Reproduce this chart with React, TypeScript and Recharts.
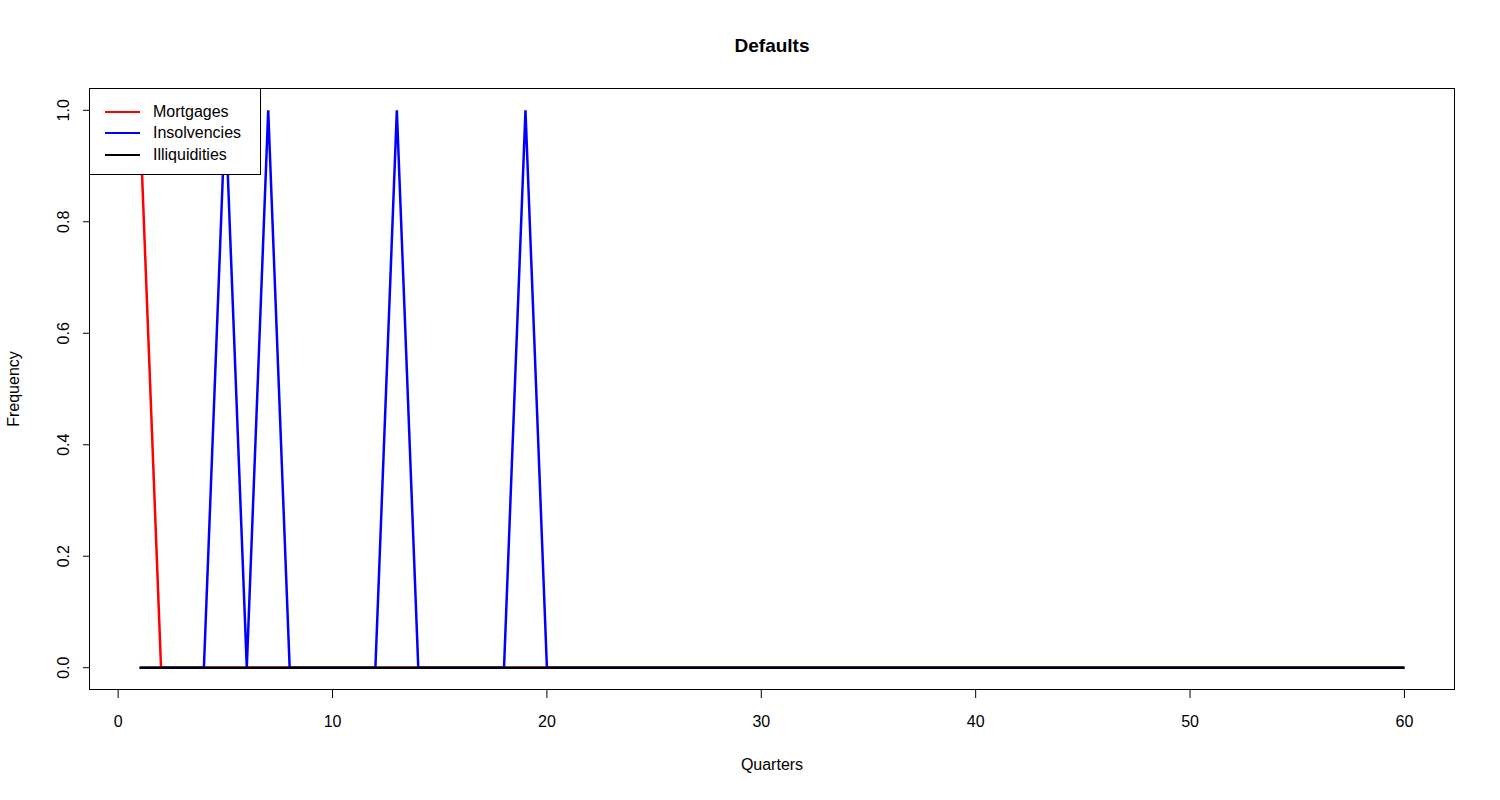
import React from "react"
import { LineChart, Line, XAxis, YAxis } from "recharts"

const quarters = [
  1, 2, 3, 4, 5, 6, 7, 8, 9, 10, 11, 12, 13, 14, 15, 16, 17, 18, 19, 20,
  21, 22, 23, 24, 25, 26, 27, 28, 29, 30, 31, 32, 33, 34, 35, 36, 37, 38, 39, 40,
  41, 42, 43, 44, 45, 46, 47, 48, 49, 50, 51, 52, 53, 54, 55, 56, 57, 58, 59, 60,
]
const mortgages = [
  1, 0, 0, 0, 0, 0, 0, 0, 0, 0, 0, 0, 0, 0, 0, 0, 0, 0, 0, 0,
  0, 0, 0, 0, 0, 0, 0, 0, 0, 0, 0, 0, 0, 0, 0, 0, 0, 0, 0, 0,
  0, 0, 0, 0, 0, 0, 0, 0, 0, 0, 0, 0, 0, 0, 0, 0, 0, 0, 0, 0,
]
const insolvencies = [
  0, 0, 0, 0, 1, 0, 1, 0, 0, 0, 0, 0, 1, 0, 0, 0, 0, 0, 1, 0,
  0, 0, 0, 0, 0, 0, 0, 0, 0, 0, 0, 0, 0, 0, 0, 0, 0, 0, 0, 0,
  0, 0, 0, 0, 0, 0, 0, 0, 0, 0, 0, 0, 0, 0, 0, 0, 0, 0, 0, 0,
]
const illiquidities = [
  0, 0, 0, 0, 0, 0, 0, 0, 0, 0, 0, 0, 0, 0, 0, 0, 0, 0, 0, 0,
  0, 0, 0, 0, 0, 0, 0, 0, 0, 0, 0, 0, 0, 0, 0, 0, 0, 0, 0, 0,
  0, 0, 0, 0, 0, 0, 0, 0, 0, 0, 0, 0, 0, 0, 0, 0, 0, 0, 0, 0,
]
const xTicks = [0, 10, 20, 30, 40, 50, 60]
const yTicks = [0, 0.2, 0.4, 0.6, 0.8, 1.0]

const data = quarters.map((q, i) => ({
  q,
  mortgages: mortgages[i],
  insolvencies: insolvencies[i],
  illiquidities: illiquidities[i],
}))

const font = "'Liberation Sans', Arial, sans-serif"

const YTick = (props: any) => {
  const { x, y, payload } = props
  return (
    <g>
      <line x1={x + 2} x2={x + 9} y1={y} y2={y} stroke="#000" />
      <text
        x={x - 12}
        y={y}
        transform={`rotate(-90, ${x - 12}, ${y})`}
        textAnchor="middle"
        fontSize={16}
        fontFamily={font}
        fill="#000"
      >
        {Number(payload.value).toFixed(1)}
      </text>
    </g>
  )
}

const legendItems = [
  { name: "Mortgages", color: "#ff0000" },
  { name: "Insolvencies", color: "#0000ff" },
  { name: "Illiquidities", color: "#000000" },
]

export default function App() {
  return (
    <div style={{ position: "absolute", left: 0, top: 0, width: 1500, height: 800, background: "#fff", fontFamily: font }}>
      <div style={{ position: "absolute", top: 35, left: 89, width: 1366, textAlign: "center", fontWeight: "bold", fontSize: 19 }}>
        Defaults
      </div>
      <LineChart width={1500} height={800} data={data} margin={{ top: 88, right: 45, bottom: 0, left: 0 }}>
        <XAxis
          dataKey="q"
          type="number"
          domain={[-1.36, 62.36]}
          ticks={xTicks}
          allowDataOverflow
          height={110}
          axisLine={false}
          tickSize={8}
          tickLine={{ stroke: "#000" }}
          tick={{ fill: "#000", fontSize: 16, fontFamily: font, dy: 16 }}
        />
        <YAxis
          type="number"
          domain={[-0.04, 1.04]}
          ticks={yTicks}
          allowDataOverflow
          width={89}
          axisLine={false}
          tickLine={false}
          tick={<YTick />}
        />
        <Line dataKey="mortgages" stroke="#ff0000" strokeWidth={2.5} dot={false} isAnimationActive={false} />
        <Line dataKey="insolvencies" stroke="#0000ff" strokeWidth={2.5} dot={false} isAnimationActive={false} />
        <Line dataKey="illiquidities" stroke="#000000" strokeWidth={2.5} dot={false} isAnimationActive={false} />
      </LineChart>
      <div style={{ position: "absolute", top: 756, left: 89, width: 1366, textAlign: "center", fontSize: 16 }}>
        Quarters
      </div>
      <div style={{ position: "absolute", left: 14, top: 389, transform: "translate(-50%, -50%) rotate(-90deg)", fontSize: 16, whiteSpace: "nowrap" }}>
        Frequency
      </div>
      <div style={{ position: "absolute", left: 89, top: 88, width: 1366, height: 602, border: "1px solid #000", boxSizing: "border-box", pointerEvents: "none" }} />
      <div style={{ position: "absolute", left: 89, top: 88, width: 172, height: 87, border: "1px solid #000", boxSizing: "border-box", background: "#fff", paddingTop: 12 }}>
        {legendItems.map((it) => (
          <div key={it.name} style={{ display: "flex", alignItems: "center", height: 21.5, fontSize: 16 }}>
            <div style={{ width: 35, height: 2, background: it.color, marginLeft: 15, marginRight: 13 }} />
            <span>{it.name}</span>
          </div>
        ))}
      </div>
    </div>
  )
}
